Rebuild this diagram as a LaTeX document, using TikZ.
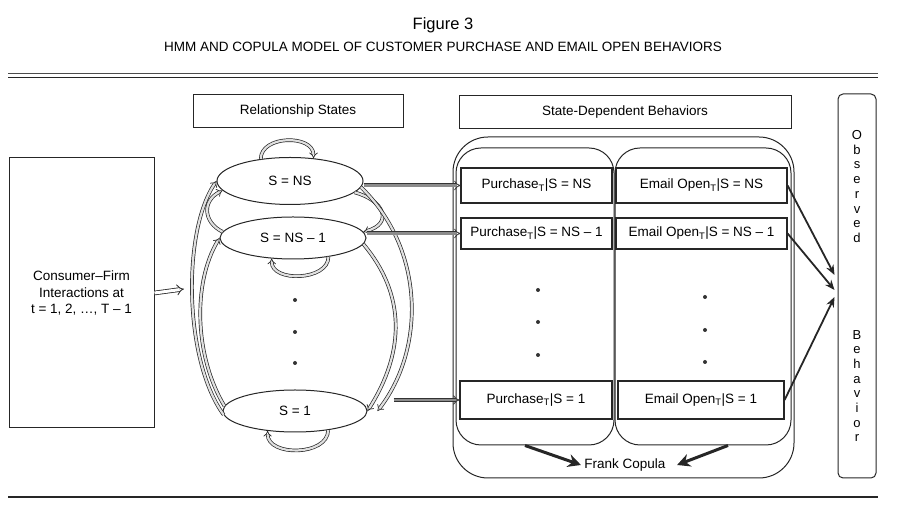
\documentclass[tikz,border=0pt]{standalone}
\usepackage{fontspec}
\setmainfont{Liberation Sans}
\usetikzlibrary{arrows.meta,shapes.geometric}

\begin{document}
\begin{tikzpicture}[
       x=1pt, y=1pt,
       font=\fontsize{13.5}{16.5}\selectfont,
       head_style/.style={draw=black!85, line width=1pt, minimum height=33pt}, % 标题框
       state_style/.style={draw=black!85, line width=1pt, ellipse, inner sep=0pt, minimum width=146pt}, % 状态椭圆
       box_style/.style={draw=black!85, line width=1.2pt, fill=white, inner sep=0pt}, % 行为框
       column_style/.style={draw=black!85, line width=1pt}, % 圆角外框
       trans_style/.style={draw=black!85, double=black!12, double distance=2.2pt, line width=0.7pt, -{Implies}}, % 状态转移
       feed_style/.style={draw=black!80, double=black!45, double distance=2.4pt, line width=0.8pt, -{Implies}}, % 状态到行为
       input_style/.style={draw=black!85, double=white, double distance=3pt, line width=0.8pt, -{Implies}},
       copula_style/.style={draw=black!85, line width=3pt, -{Stealth[length=13pt,width=13pt]}},
       obs_style/.style={draw=black!85, line width=1.8pt, -{Stealth[length=10pt,width=8pt]}}
   ]
   \useasboundingbox (0,0) rectangle (900,519);

   % 1. 标题与横线
   \node (fig) at (443,494) {\fontsize{16.5}{18}\selectfont Figure 3};
   \node (sub) at (443,472) {HMM AND COPULA MODEL OF CUSTOMER PURCHASE AND EMAIL OPEN BEHAVIORS};
   \draw[line width=1.6pt, black!70] (8,445.5) -- (878,445.5);
   \draw[line width=0.8pt, black!85] (8,442) -- (878,442);
   \draw[line width=1.2pt, black!85] (8,22) -- (878,22);

   % 2. 上方标题框与右侧竖框
   \node[head_style, minimum width=210pt] (rel) at (298,407.5) {Relationship States};
   \node[head_style, minimum width=332pt] (sdb) at (625,407) {State-Dependent Behaviors};
   \node[draw=black!85, line width=1pt, rounded corners=5pt, minimum width=38pt, minimum height=384pt] (obs) at (857,233) {};
   \node[align=center, font=\fontsize{13}{14.7}\selectfont] (obs_top) at (857,332.5) {O\\b\\s\\e\\r\\v\\e\\d};
   \node[align=center, font=\fontsize{13}{14.7}\selectfont] (obs_bot) at (857,133) {B\\e\\h\\a\\v\\i\\o\\r};

   % 3. 左侧输入框
   \node[draw=black!85, line width=1pt, minimum width=145pt, minimum height=270pt, align=center] (cfi) at (81.5,226)
       {Consumer–Firm\\Interactions at\\t = 1, 2, …, T – 1};
   \coordinate (cfi_tip) at (184,230);
   \draw[input_style] (cfi.east) -- (cfi_tip);

   % 4. 状态椭圆
   \node[state_style, minimum height=47pt] (ns) at (290,338) {S = NS};
   \node[state_style, minimum height=42pt] (ns1) at (293,281) {S = NS – 1};
   \node[state_style, minimum width=144pt, minimum height=42pt] (s1) at (295,108) {S = 1};
   \foreach \y in {219,187,156}
       \fill[black!80] (295,\y) circle (2pt);

   % 5. 状态转移(自环与左右弧线)
   \draw[trans_style] (ns.143) .. controls +(0,24) and +(0,24) .. (ns.44);
   \draw[trans_style] (ns1.332) .. controls +(0,-24) and +(0,-24) .. (ns1.224);
   \draw[trans_style] (s1.330) .. controls +(0,-26) and +(0,-26) .. (s1.216);
   \draw[trans_style] (s1.183) .. controls +(-40,55) and +(-34,-50) .. (ns.west);
   \draw[trans_style] (s1.176) .. controls +(-30,50) and +(-27,-45) .. (ns1.west);
   \draw[trans_style] (ns1.175) .. controls +(-20,10) and +(-20,-10) .. (ns.188);
   \draw[trans_style] (ns.350) .. controls +(30,-8) and +(30,8) .. (ns1.5);
   \draw[trans_style] (ns.355) .. controls +(64,-62) and +(48,62) .. ([xshift=10pt]s1.east);
   \draw[trans_style] (ns1.355) .. controls +(42,-50) and +(38,60) .. (s1.east);

   % 6. 行为外框与两列
   \node[column_style, rounded corners=35pt, minimum width=341pt, minimum height=341pt] (beh) at (623.5,211.5) {};
   \node[column_style, rounded corners=25pt, minimum width=158pt, minimum height=297pt] (pcol) at (535,222.5) {};
   \node[column_style, rounded corners=25pt, minimum width=176pt, minimum height=297pt] (ecol) at (703,222.5) {};

   % 7. 行为框
   \node[box_style, minimum width=151pt, minimum height=35pt] (p_ns) at (536.5,333.5) {Purchase\textsubscript{T}|S = NS};
   \node[box_style, minimum width=171pt, minimum height=35pt] (e_ns) at (701.5,333.5) {Email Open\textsubscript{T}|S = NS};
   \node[box_style, minimum width=151pt, minimum height=31pt] (p_ns1) at (536.5,285.5) {Purchase\textsubscript{T}|S = NS – 1};
   \node[box_style, minimum width=171pt, minimum height=31pt] (e_ns1) at (701.5,285.5) {Email Open\textsubscript{T}|S = NS – 1};
   \node[box_style, minimum width=152pt, minimum height=38pt] (p_s1) at (536,119) {Purchase\textsubscript{T}|S = 1};
   \node[box_style, minimum width=166pt, minimum height=38pt] (e_s1) at (701,119) {Email Open\textsubscript{T}|S = 1};
   \foreach \y in {229,197,164}
       \fill[black!80] (538,\y) circle (2pt);
   \foreach \y in {222,189,157}
       \fill[black!80] (705,\y) circle (2pt);

   % 8. 状态到行为的箭头
   \coordinate (s1_out) at (s1.east |- p_s1.west);
   \draw[feed_style] (p_ns.west -| ns.east) -- (p_ns.west);
   \draw[feed_style] (p_ns1.west -| ns1.east) -- (p_ns1.west);
   \draw[feed_style] ([xshift=26pt]s1_out) -- (p_s1.west);

   % 9. Copula 与观测行为
   \node (fc) at (625,54) {Frank Copula};
   \draw[copula_style] ([xshift=-10pt]pcol.south) -- (fc.west);
   \draw[copula_style] ([xshift=25pt]ecol.south) -- ([xshift=8pt]fc.east);
   \draw[obs_style] (e_ns.east) -- ([xshift=-3pt,yshift=11pt]obs.west);
   \draw[obs_style] (e_ns1.east) -- ([xshift=-3pt,yshift=-4pt]obs.west);
   \draw[obs_style] (e_s1.east) -- ([xshift=-3pt,yshift=-11pt]obs.west);

   \end{tikzpicture}
\end{document}
